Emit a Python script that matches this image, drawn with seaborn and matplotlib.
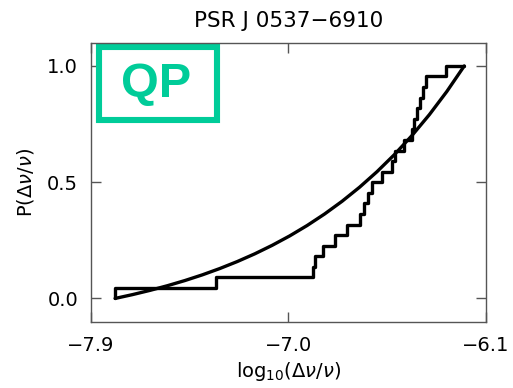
import matplotlib
matplotlib.use("Agg")
import matplotlib.pyplot as plt
import seaborn as sns
import numpy as np
from matplotlib.patches import Rectangle

# ---- data ----
title = "PSR J 0537\u22126910"
badge = "QP"
# sorted glitch sizes log10(dnu/nu) and cumulative fraction
glitch_x = [-7.789, -7.329, -6.886, -6.880, -6.844, -6.788, -6.732, -6.674,
            -6.656, -6.636, -6.620, -6.575, -6.530, -6.514, -6.472, -6.438,
            -6.427, -6.413, -6.401, -6.388, -6.375, -6.282, -6.199]
glitch_p = [0.0, 0.045, 0.091, 0.136, 0.182, 0.227, 0.273, 0.318, 0.364,
            0.409, 0.455, 0.5, 0.545, 0.591, 0.636, 0.682, 0.727, 0.773,
            0.818, 0.864, 0.909, 0.955, 1.0]
# fitted model cumulative distribution
model_x = [-7.789, -7.7095, -7.630, -7.5505, -7.471, -7.3915, -7.312, -7.2325,
           -7.153, -7.0735, -6.994, -6.9145, -6.835, -6.7555, -6.676, -6.5965,
           -6.517, -6.4375, -6.358, -6.2785, -6.199]
model_p = [0.0, 0.0165, 0.0347, 0.0548, 0.0770, 0.1015, 0.1287, 0.1587,
           0.1918, 0.2285, 0.2689, 0.3137, 0.3632, 0.4178, 0.4782, 0.5450,
           0.6187, 0.7003, 0.7904, 0.8900, 1.0]
x_ticks = [-7.9, -7.0, -6.1]
x_ticklabels = ["\u22127.9", "\u22127.0", "\u22126.1"]
y_ticks = [0.0, 0.5, 1.0]
y_ticklabels = ["0.0", "0.5", "1.0"]

sns.set_style("ticks")
plt.rcParams["font.family"] = ["DejaVu Sans"]
plt.rcParams["mathtext.fontset"] = "dejavusans"
plt.rcParams["text.color"] = "black"
plt.rcParams["axes.labelcolor"] = "black"
plt.rcParams["xtick.color"] = "black"
plt.rcParams["ytick.color"] = "black"

fig = plt.figure(figsize=(5.13, 3.88), dpi=100)
ax = fig.add_axes([0.1768, 0.1709, 0.7706, 0.7191])

spine_col = "#555555"
sns.lineplot(x=glitch_x, y=glitch_p, ax=ax, drawstyle="steps-pre",
             estimator=None, sort=False, color="black", lw=2.4)
sns.lineplot(x=model_x, y=model_p, ax=ax, estimator=None, sort=False,
             color="black", lw=2.4)

ax.set_xlim(-7.9, -6.1)
ax.set_ylim(-0.1, 1.1)
ax.set_xticks(x_ticks)
ax.set_xticklabels(x_ticklabels)
ax.set_yticks(y_ticks)
ax.set_yticklabels(y_ticklabels)
ax.tick_params(direction="in", length=7, width=1.0, color=spine_col,
               labelcolor="black", top=True, right=True, labelsize=14, pad=9)
ax.tick_params(axis="x", pad=10)
for s in ax.spines.values():
    s.set_color(spine_col)
    s.set_linewidth(1.0)

ax.set_xlabel(r"log$_{10}$($\Delta\nu/\nu$)", fontsize=14, labelpad=4,
              color="black")
ax.set_ylabel(r"P($\Delta\nu/\nu$)", fontsize=14, labelpad=8, color="black")
ax.set_title(title, fontsize=15.5, pad=11, color="black")

green = "#00CC99"
ax.add_patch(Rectangle((0.021, 0.7219), 0.2993, 0.2616, transform=ax.transAxes,
                       fill=False, edgecolor=green, lw=4.4, clip_on=False))
ax.text(0.165, 0.8043, badge, transform=ax.transAxes, ha="center",
        va="baseline", fontsize=35, fontweight="bold", color=green,
        family=["Liberation Sans", "DejaVu Sans"])

fig.savefig("out.png", dpi=100)
